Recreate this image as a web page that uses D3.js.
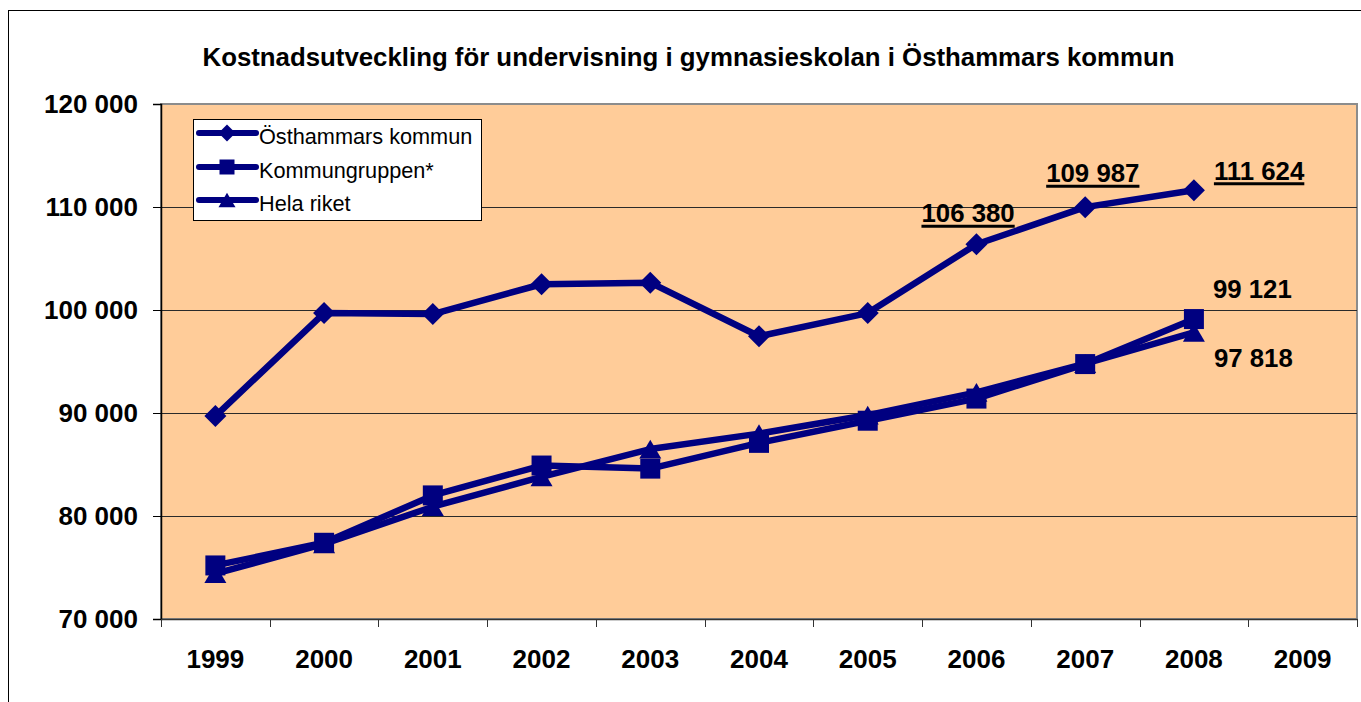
<!DOCTYPE html>
<html>
<head>
<meta charset="utf-8">
<script src="https://cdn.jsdelivr.net/npm/d3@7"></script>
<style>
  html, body { margin: 0; padding: 0; background: #ffffff; }
  svg { display: block; font-family: "Liberation Sans", Arial, sans-serif; }
</style>
</head>
<body>
<svg id="chart" width="1361" height="702"></svg>
<script>
// ---- data ----
const years = ['1999','2000','2001','2002','2003','2004','2005','2006','2007','2008','2009'];
const seriesNames = ['Östhammars kommun', 'Kommungruppen*', 'Hela riket'];
const osthammar     = [89700, 99700, 99600, 102500, 102650, 97450, 99700, 106380, 109987, 111624];
const kommungruppen = [75200, 77400, 82000, 84900, 84600, 87100, 89250, 91400, 94750, 99121];
const helaRiket     = [74400, 77300, 80900, 83800, 86500, 88000, 89800, 92000, 94800, 97818];
const yTicks = [70000, 80000, 90000, 100000, 110000, 120000];
const titleText = 'Kostnadsutveckling för undervisning i gymnasieskolan i Östhammars kommun';

// ---- layout ----
const svg = d3.select('#chart');
const plot = { left: 161, right: 1357, top: 104, bottom: 619 };
const navy = '#000080';
const font = '"Liberation Sans", Arial, sans-serif';

const x = d3.scaleBand().domain(years).range([plot.left, plot.right]).padding(0);
const y = d3.scaleLinear().domain([70000, 120000]).range([plot.bottom, plot.top]);
const cx = yr => x(yr) + x.bandwidth() / 2;

const fmt = v => d3.format(',')(v).replace(/,/g, ' ');

// outer chart border
svg.append('rect').attr('x', 8.5).attr('y', 10.5).attr('width', 1400).attr('height', 800)
  .attr('fill', '#fff').attr('stroke', '#000').attr('stroke-width', 1);

// title
svg.append('text').attr('x', 688.5).attr('y', 66).attr('text-anchor', 'middle')
  .attr('font-size', 25.8).attr('font-weight', 'bold').attr('fill', '#000').text(titleText);

// plot background
svg.append('rect').attr('x', plot.left).attr('y', plot.top)
  .attr('width', plot.right - plot.left).attr('height', plot.bottom - plot.top)
  .attr('fill', '#FFCC99').attr('stroke', '#8c8c8c').attr('stroke-width', 2);

// gridlines
svg.append('g').selectAll('line').data(yTicks.filter(v => v > 70000 && v < 120000)).join('line')
  .attr('x1', plot.left).attr('x2', plot.right)
  .attr('y1', d => Math.round(y(d)) + 0.5).attr('y2', d => Math.round(y(d)) + 0.5)
  .attr('stroke', '#2a2a2a').attr('stroke-width', 1);

// y axis
const yAxis = d3.axisLeft(y).tickValues(yTicks).tickSize(8).tickPadding(15).tickFormat(fmt);
const gy = svg.append('g').attr('transform', `translate(${plot.left},0)`).call(yAxis);
gy.select('.domain').attr('stroke', '#000').attr('stroke-width', 1.5);
gy.selectAll('.tick line').attr('stroke', '#000');
gy.selectAll('.tick text').attr('font-size', 26).attr('font-weight', 'bold')
  .attr('font-family', font).attr('fill', '#000');

// x axis (labels)
const xAxis = d3.axisBottom(x).tickSize(0).tickPadding(31);
const gx = svg.append('g').attr('transform', `translate(0,${plot.bottom})`).call(xAxis);
gx.select('.domain').attr('stroke', '#333').attr('stroke-width', 1.5);
gx.selectAll('.tick text').attr('font-size', 26).attr('font-weight', 'bold')
  .attr('font-family', font).attr('fill', '#000');
// x boundary ticks
const edges = years.map(d => x(d)).concat([plot.right]);
svg.append('g').selectAll('line').data(edges).join('line')
  .attr('x1', d => Math.round(d) + 0.5).attr('x2', d => Math.round(d) + 0.5)
  .attr('y1', plot.bottom).attr('y2', plot.bottom + 8)
  .attr('stroke', '#333').attr('stroke-width', 1);

// marker types
const diamondType = { draw(ctx, size) { const r = Math.sqrt(size) / 2;
  ctx.moveTo(0, -r); ctx.lineTo(r, 0); ctx.lineTo(0, r); ctx.lineTo(-r, 0); ctx.closePath(); } };
const squareType = { draw(ctx, size) { const r = Math.sqrt(size) / 2;
  ctx.rect(-r, -r, 2 * r, 2 * r); } };
const triangleType = { draw(ctx, size) { const w = Math.sqrt(size); const h = w * 0.85;
  ctx.moveTo(0, -h / 2); ctx.lineTo(w / 2, h / 2); ctx.lineTo(-w / 2, h / 2); ctx.closePath(); } };

const series = [
  { name: seriesNames[0], values: osthammar, type: diamondType, size: 22, lsize: 17 },
  { name: seriesNames[1], values: kommungruppen, type: squareType, size: 20, lsize: 15 },
  { name: seriesNames[2], values: helaRiket, type: triangleType, size: 22, lsize: 17 }
];

const line = d3.line().x((d, i) => cx(years[i])).y(d => y(d));

series.forEach(s => {
  svg.append('path').datum(s.values).attr('d', line)
    .attr('fill', 'none').attr('stroke', navy).attr('stroke-width', 6.5)
    .attr('stroke-linejoin', 'round').attr('stroke-linecap', 'round');
  svg.append('g').selectAll('path').data(s.values).join('path')
    .attr('d', d3.symbol().type(s.type).size(s.size * s.size))
    .attr('transform', (d, i) => `translate(${cx(years[i])},${y(d)})`)
    .attr('fill', navy);
});

// data labels
const labels = [
  { series: 0, idx: 7, dx: -55, dy: -22, underline: true },
  { series: 0, idx: 8, dx: -39, dy: -25, underline: true },
  { series: 0, idx: 9, dx: 20, dy: -10.5, underline: true },
  { series: 1, idx: 9, dx: 19, dy: -21, underline: false },
  { series: 2, idx: 9, dx: 20, dy: 34.5, underline: false }
];
labels.forEach(l => {
  const v = series[l.series].values[l.idx];
  const px = cx(years[l.idx]) + l.dx, py = y(v) + l.dy;
  const t = svg.append('text').attr('x', px).attr('y', py)
    .attr('font-size', 25.8).attr('font-weight', 'bold').attr('fill', '#000').text(fmt(v));
  if (l.underline) {
    const w = t.node().getComputedTextLength();
    svg.append('line').attr('x1', px).attr('x2', px + w)
      .attr('y1', py + 4).attr('y2', py + 4).attr('stroke', '#000').attr('stroke-width', 3);
  }
});

// legend
const lg = svg.append('g');
lg.append('rect').attr('x', 193.5).attr('y', 119.5).attr('width', 288).attr('height', 101)
  .attr('fill', '#fff').attr('stroke', '#000').attr('stroke-width', 1);
const legendY = [133, 167, 200];
series.forEach((s, i) => {
  const ly = legendY[i];
  lg.append('line').attr('x1', 199).attr('x2', 256).attr('y1', ly).attr('y2', ly)
    .attr('stroke', navy).attr('stroke-width', 6).attr('stroke-linecap', 'round');
  lg.append('path').attr('d', d3.symbol().type(s.type).size(s.lsize * s.lsize))
    .attr('transform', `translate(227,${ly})`).attr('fill', navy);
  lg.append('text').attr('x', 259).attr('y', ly + 11).attr('font-size', 21.7)
    .attr('fill', '#000').text(s.name);
});
</script>
</body>
</html>
